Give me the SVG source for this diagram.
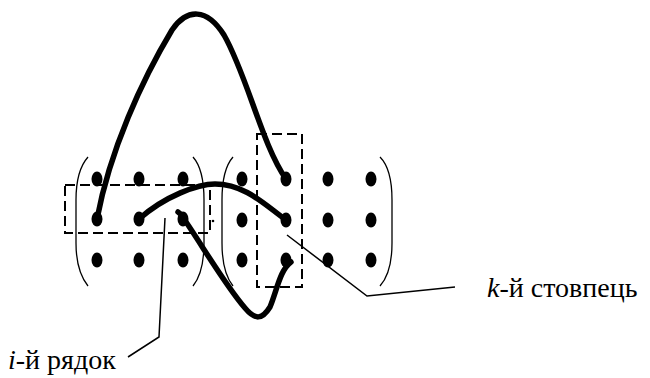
<svg xmlns="http://www.w3.org/2000/svg" width="650" height="378" viewBox="0 0 650 378">
<style>
.dot{fill:#000}
.paren{fill:none;stroke:#000;stroke-width:1.3}
.dash{fill:none;stroke:#000;stroke-width:2;stroke-dasharray:10 5}
.thick{fill:none;stroke:#000;stroke-width:5.5;stroke-linecap:round}
.thin{fill:none;stroke:#000;stroke-width:1.5}
</style>
<rect width="650" height="378" fill="#fff"/>
<g id="matrixA">
<path class="paren" d="M88 157 C80 166 76 180 76 200 L76 243 C76 262 80 276 88 286"/>
<path class="paren" d="M193 157 C201 166 204 180 204 200 L204 243 C204 262 201 276 193 286"/>
<ellipse class="dot" cx="97" cy="179" rx="5.5" ry="7.5"/>
<ellipse class="dot" cx="139" cy="179" rx="5.5" ry="7.5"/>
<ellipse class="dot" cx="183" cy="179" rx="5.5" ry="7.5"/>
<ellipse class="dot" cx="97" cy="219" rx="5.5" ry="7.5"/>
<ellipse class="dot" cx="139" cy="219" rx="5.5" ry="7.5"/>
<ellipse class="dot" cx="183" cy="219" rx="5.5" ry="7.5"/>
<ellipse class="dot" cx="97" cy="260" rx="5.5" ry="7.5"/>
<ellipse class="dot" cx="139" cy="260" rx="5.5" ry="7.5"/>
<ellipse class="dot" cx="183" cy="260" rx="5.5" ry="7.5"/>
</g>
<g id="matrixB">
<path class="paren" d="M233 157 C225 166 222 180 222 200 L222 243 C222 262 225 276 233 286"/>
<path class="paren" d="M380 157 C389 166 392 180 392 200 L392 243 C392 262 389 276 380 286"/>
<ellipse class="dot" cx="242" cy="179" rx="5.5" ry="7.5"/>
<ellipse class="dot" cx="286" cy="179" rx="5.5" ry="7.5"/>
<ellipse class="dot" cx="328" cy="179" rx="5.5" ry="7.5"/>
<ellipse class="dot" cx="371" cy="179" rx="5.5" ry="7.5"/>
<ellipse class="dot" cx="242" cy="220" rx="5.5" ry="7.5"/>
<ellipse class="dot" cx="286" cy="220" rx="5.5" ry="7.5"/>
<ellipse class="dot" cx="328" cy="220" rx="5.5" ry="7.5"/>
<ellipse class="dot" cx="371" cy="220" rx="5.5" ry="7.5"/>
<ellipse class="dot" cx="242" cy="260" rx="5.5" ry="7.5"/>
<ellipse class="dot" cx="286" cy="260" rx="5.5" ry="7.5"/>
<ellipse class="dot" cx="328" cy="260" rx="5.5" ry="7.5"/>
<ellipse class="dot" cx="371" cy="260" rx="5.5" ry="7.5"/>
</g>
<g id="rowBox">
<rect class="dash" x="65" y="185" width="145" height="48"/>
<circle cx="213" cy="221" r="1.3" fill="#000"/>
</g>
<g id="colBox">
<rect class="dash" x="257" y="134" width="45" height="153"/>
</g>
<g id="connectors">
<path class="thick" d="M97 219 C110 150 142 80 172 30 C187 8 207 8 224 35 C247 75 262 145 286 179"/>
<path class="thick" d="M139 219 C165 196 198 184 215 184 C245 184 265 205 286 220"/>
<path class="thick" d="M178 212 C181 214 183 216 184 219 C200 242 225 285 245 308 C255 320 262 320 270 307 C277 290 280 270 291 262"/>
<path class="thin" d="M165 218 L159 337 L128 357"/>
<path class="thin" d="M287 235 L367 296 L455 287"/>
</g>
<g id="labels" style="font-family:'Liberation Serif','DejaVu Serif',serif;font-size:28px" fill="#000">
<text x="8" y="369"><tspan font-style="italic">i</tspan>-й рядок</text>
<text x="487" y="297"><tspan font-style="italic">k</tspan>-й стовпець</text>
</g>
</svg>
